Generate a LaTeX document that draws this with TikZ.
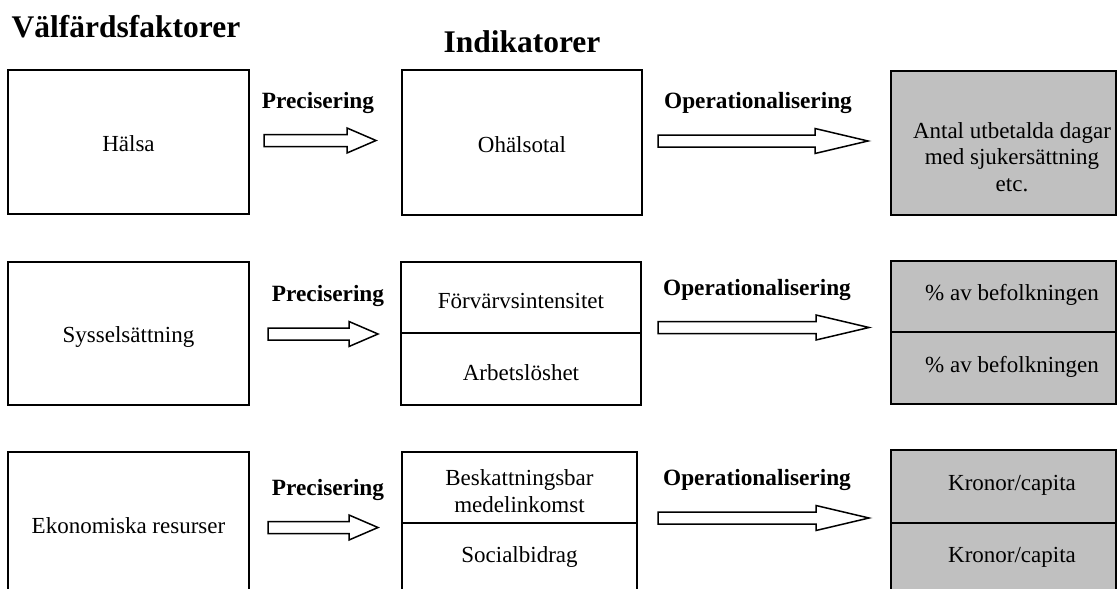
\documentclass[tikz,border=0pt]{standalone}
\usepackage{fontspec}
\setmainfont{Liberation Serif}
\definecolor{boxgray}{RGB}{192,192,192}
\newcommand\blockarrow[4]{% #1 x start, #2 y middle, #3 x head base, #4 x tip
  \draw[barrow] (#1,{#2-6}) -- (#3,{#2-6}) -- (#3,{#2-12.5}) -- (#4,#2) -- (#3,{#2+12.5}) -- (#3,{#2+6}) -- (#1,{#2+6}) -- cycle;}
\tikzset{
  box/.style={draw=black, line width=1.8pt},
  graybox/.style={box, fill=boxgray},
  txt/.style={font=\fontsize{23}{26.5}\selectfont, inner sep=0pt, anchor=base, align=center},
  mtxt/.style={font=\fontsize{23}{26.5}\selectfont, inner sep=0pt, anchor=center, align=center},
  lbl/.style={font=\bfseries\fontsize{23.3}{27}\selectfont, inner sep=0pt, anchor=base},
  heading/.style={font=\bfseries\fontsize{31.5}{36}\selectfont, inner sep=0pt, anchor=base},
  barrow/.style={draw=black, line width=1.5pt, fill=white, line join=miter},
}
\begin{document}
\begin{tikzpicture}[x=1pt,y=-1pt]
\useasboundingbox (0,0) rectangle (1117,589);
\clip (0,0) rectangle (1117,589);

% headings
\node[heading] (hvf) at (126,37) {Välfärdsfaktorer};
\node[heading] (hind) at (522,52) {Indikatorer};

% ---------- row 1 ----------
\draw[box] (8,70) rectangle (249,214);
\draw[box] (402,70) rectangle (642,215);
\draw[graybox] (891,71) rectangle (1116,215);
\node[txt] (halsa) at (128.5,151) {Hälsa};
\node[txt] (ohalsotal) at (522,152) {Ohälsotal};
\node[mtxt] (antal) at (1012,157) {Antal utbetalda dagar\\med sjukersättning\\etc.};
\node[lbl] (p1) at (318,108) {Precisering};
\node[lbl] (o1) at (758,108) {Operationalisering};
\blockarrow{264}{140.5}{347}{376}
\blockarrow{658}{141}{815}{868}

% ---------- row 2 ----------
\draw[box] (8,262) rectangle (249,405);
\draw[box] (401,262) rectangle (641,405);
\draw[box] (401,333) -- (641,333);
\draw[graybox] (891,261) rectangle (1116,404);
\draw[box] (891,332) -- (1116,332);
\node[txt] (syss) at (128.5,342) {Sysselsättning};
\node[txt] (forv) at (521,308) {Förvärvsintensitet};
\node[txt] (arb) at (521,380) {Arbetslöshet};
\node[txt] (bef1) at (1012,300) {\% av befolkningen};
\node[txt] (bef2) at (1012,372) {\% av befolkningen};
\node[lbl] (p2) at (328,301) {Precisering};
\node[lbl] (o2) at (757,295) {Operationalisering};
\blockarrow{268}{334}{349}{378}
\blockarrow{658}{327.5}{816}{869}

% ---------- row 3 ----------
\draw[box] (8,452) rectangle (249,640);
\draw[box] (402,452) rectangle (637,640);
\draw[box] (402,523) -- (637,523);
\draw[graybox] (891,450) rectangle (1116,640);
\draw[box] (891,523) -- (1116,523);
\node[txt] (ekon) at (128.5,533) {Ekonomiska resurser};
\node[mtxt] (besk) at (519.5,491) {Beskattningsbar\\medelinkomst};
\node[txt] (soc) at (519.5,562) {Socialbidrag};
\node[txt] (kr1) at (1012,490) {Kronor/capita};
\node[txt] (kr2) at (1012,562) {Kronor/capita};
\node[lbl] (p3) at (328,495) {Precisering};
\node[lbl] (o3) at (757,485) {Operationalisering};
\blockarrow{268}{527.5}{349}{378}
\blockarrow{658}{518}{816}{869}
\end{tikzpicture}
\end{document}
